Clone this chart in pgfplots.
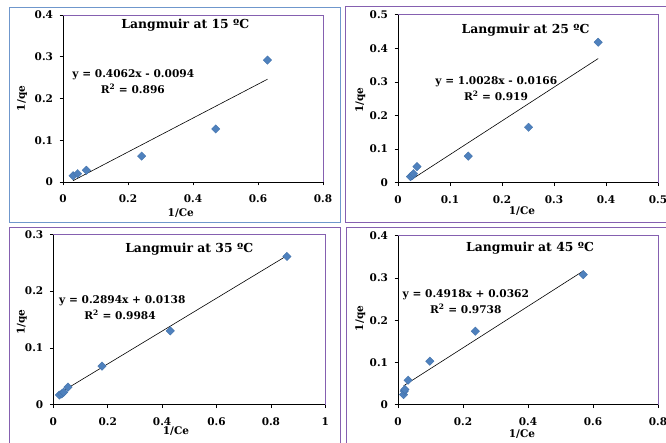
\documentclass[border=0pt]{standalone}
\usepackage{fontspec}
\setmainfont{DejaVu Serif}
\usepackage{pgfplots}
\pgfplotsset{compat=1.18}
\definecolor{mk}{HTML}{4F81BD}
\definecolor{mkd}{HTML}{3F6FA8}
\definecolor{frm}{HTML}{8560B0}
\definecolor{frb}{HTML}{6F97CC}
\newcommand{\tf}{\bfseries\fontsize{10.5}{11}\selectfont}
\newcommand{\ttl}{\bfseries\fontsize{12.4}{13}\selectfont}
\newcommand{\eqf}{\bfseries\fontsize{10.6}{11}\selectfont}
\pgfplotsset{
 lang/.style={
  scale only axis, anchor=south west, clip=false,
  axis lines*=left, axis line style={black, line width=0.6pt, -},
  tick align=outside, major tick length=3.5pt,
  tick style={black, line width=0.6pt},
  ticklabel style={font=\tf},
  /pgf/number format/assume math mode=true,
  /pgf/number format/fixed,
  label style={font=\tf},
  xticklabel style={yshift=-6pt},
  yticklabel style={xshift=-3pt},
 },
 pts/.style={only marks, mark=square*, mark size=3pt,
  mark options={rotate=45, fill=mk, draw=mkd, line width=0.3pt}},
 trend/.style={black, line width=0.6pt, no marks},
}
\begin{document}
\begin{tikzpicture}
\path[use as bounding box] (0pt,0pt) rectangle (666pt,443pt);
\begin{scope}[x=1pt,y=1pt]
\clip (0,0) rectangle (666,443);
\draw[frb, line width=0.9pt] (9,221) rectangle (340,436);
\draw[frm, line width=0.9pt] (345,221) -- (345,437) -- (680,437);
\draw[frm, line width=0.9pt] (345,221) -- (680,221);
\draw[frm, line width=0.9pt] (9,-10) -- (9,216) -- (340,216) -- (340,-10);
\draw[frm, line width=0.9pt] (346,-10) -- (346,216) -- (680,216);
\end{scope}

% Panel 1: 15 C
\begin{axis}[lang, at={(63pt,261pt)}, width=260pt, height=167pt,
  xmin=0, xmax=0.8, ymin=0, ymax=0.4,
  xtick={0,0.2,0.4,0.6,0.8}, ytick={0,0.1,0.2,0.3,0.4},
  xlabel={1/Ce}, ylabel={1/qe},
  xlabel style={at={([yshift=-31pt]rel axis cs:0.453,0)}, anchor=center},
  ylabel style={at={([xshift=-41pt]rel axis cs:0,0.5)}, anchor=center}]
\draw[frm, line width=0.8pt] (rel axis cs:0,1) -- (rel axis cs:1,1) -- (rel axis cs:1,0);
\addplot[trend] coordinates {(0.031,0.0032) (0.629,0.2461)};
\addplot[pts] coordinates {(0.031,0.015) (0.045,0.020) (0.072,0.028) (0.242,0.062) (0.470,0.127) (0.629,0.292)};
\end{axis}

% Panel 2: 25 C
\begin{axis}[lang, at={(398pt,260.3pt)}, width=260pt, height=168pt,
  xmin=0, xmax=0.5, ymin=0, ymax=0.5,
  xtick={0,0.1,0.2,0.3,0.4,0.5}, ytick={0,0.1,0.2,0.3,0.4,0.5},
  xlabel={1/Ce}, ylabel={1/qe},
  xlabel style={at={([yshift=-28pt]rel axis cs:0.477,0)}, anchor=center},
  ylabel style={at={([xshift=-37.7pt]rel axis cs:0,0.49)}, anchor=center}]
\draw[frm, line width=0.8pt] (rel axis cs:0,1) -- (rel axis cs:1,1) -- (rel axis cs:1,0);
\addplot[trend] coordinates {(0.024,0.0075) (0.385,0.3695)};
\addplot[pts] coordinates {(0.024,0.018) (0.028,0.022) (0.030,0.027) (0.0365,0.048) (0.135,0.079) (0.251,0.165) (0.385,0.418)};
\end{axis}

% Panel 3: 35 C
\begin{axis}[lang, at={(53.3pt,38.3pt)}, width=272pt, height=170.4pt,
  xmin=0, xmax=1, ymin=0, ymax=0.3,
  xtick={0,0.2,0.4,0.6,0.8,1}, ytick={0,0.1,0.2,0.3},
  xlabel={1/Ce}, ylabel={1/qe},
  xlabel style={at={([yshift=-26pt]rel axis cs:0.451,0)}, anchor=center},
  ylabel style={at={([xshift=-31.6pt]rel axis cs:0,0.485)}, anchor=center}]
\draw[frm, line width=0.8pt] (rel axis cs:0,1) -- (rel axis cs:1,1) -- (rel axis cs:1,0);
\addplot[trend] coordinates {(0.022,0.0202) (0.859,0.2624)};
\addplot[pts] coordinates {(0.022,0.017) (0.031,0.019) (0.038,0.022) (0.054,0.031) (0.179,0.068) (0.430,0.130) (0.859,0.261)};
\end{axis}

% Panel 4: 45 C
\begin{axis}[lang, at={(398pt,38.3pt)}, width=260pt, height=169pt,
  xmin=0, xmax=0.8, ymin=0, ymax=0.4,
  xtick={0,0.2,0.4,0.6,0.8}, ytick={0,0.1,0.2,0.3,0.4},
  xlabel={1/Ce}, ylabel={1/qe},
  xlabel style={at={([yshift=-29.6pt]rel axis cs:0.477,0)}, anchor=center},
  ylabel style={at={([xshift=-37.7pt]rel axis cs:0,0.51)}, anchor=center}]
\draw[frm, line width=0.8pt] (rel axis cs:0,1) -- (rel axis cs:1,1) -- (rel axis cs:1,0);
\addplot[trend] coordinates {(0.0172,0.0447) (0.570,0.3165)};
\addplot[pts] coordinates {(0.017,0.024) (0.019,0.032) (0.021,0.036) (0.031,0.058) (0.098,0.103) (0.238,0.174) (0.570,0.308)};
\end{axis}

% Titles and equations
\begin{scope}[x=1pt,y=1pt]
\node[font=\ttl] at (185.3,418) {Langmuir at 15 ºC};
\node[font=\eqf] at (133.3,368) {y = 0.4062x - 0.0094};
\node[font=\eqf] at (132.8,353.7) {R\textsuperscript{2} = 0.896};

\node[font=\ttl] at (525.5,413) {Langmuir at 25 ºC};
\node[font=\eqf] at (496.3,361.3) {y = 1.0028x - 0.0166};
\node[font=\eqf] at (496,347) {R\textsuperscript{2} = 0.919};

\node[font=\ttl] at (189.2,194.3) {Langmuir at 35 ºC};
\node[font=\eqf] at (122.3,142.7) {y = 0.2894x + 0.0138};
\node[font=\eqf] at (120,128.3) {R\textsuperscript{2} = 0.9984};

\node[font=\ttl] at (530,195.3) {Langmuir at 45 ºC};
\node[font=\eqf] at (465.8,148.3) {y = 0.4918x + 0.0362};
\node[font=\eqf] at (465.8,133.7) {R\textsuperscript{2} = 0.9738};
\end{scope}
\end{tikzpicture}
\end{document}
